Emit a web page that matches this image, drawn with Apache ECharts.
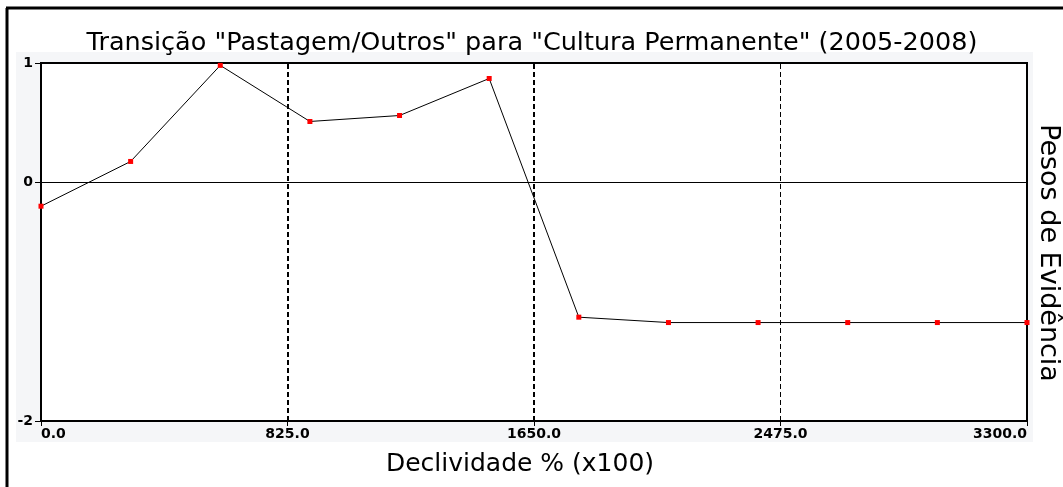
<!DOCTYPE html>
<html>
<head>
<meta charset="utf-8">
<script src="https://cdn.jsdelivr.net/npm/echarts@6/dist/echarts.min.js"></script>
<style>
  html, body { margin: 0; padding: 0; background: #ffffff; }
  #chart { width: 1063px; height: 487px; }
</style>
</head>
<body>
<div id="chart"></div>
<script>
// Slope classes (x100 %) and their weights of evidence
const declividade = [0, 300, 600, 900, 1200, 1500, 1800, 2100, 2400, 2700, 3000, 3300];
const pesos = [-0.20, 0.175, 0.98, 0.51, 0.56, 0.87, -1.13, -1.175, -1.175, -1.175, -1.175, -1.175];
const xTicks = [0, 825, 1650, 2475, 3300];
const yTicks = [-2, 0, 1];
const dashedBreaks = [825, 1650, 2475];

const chart = echarts.init(document.getElementById('chart'), null, { renderer: 'canvas' });

const font = 'DejaVu Sans, sans-serif';

chart.setOption({
  animation: false,
  backgroundColor: '#ffffff',
  title: {
    text: 'Transição "Pastagem/Outros" para "Cultura Permanente" (2005-2008)',
    left: 527,
    textAlign: 'center',
    top: 25,
    textStyle: { fontFamily: font, fontSize: 25.5, fontWeight: 'normal', color: '#000' }
  },
  graphic: [
    // light panel behind the plot
    { type: 'rect', z: -10, shape: { x: 16, y: 52, width: 1017, height: 390 }, style: { fill: '#f5f6f8' } },
    // outer frame (left and top edges)
    { type: 'line', z: 10, shape: { x1: 7, y1: 8, x2: 7, y2: 487 }, style: { stroke: '#000', lineWidth: 3 } },
    { type: 'line', z: 10, shape: { x1: 6, y1: 8, x2: 1063, y2: 8 }, style: { stroke: '#000', lineWidth: 3 } },
    // right-hand axis name
    {
      type: 'text', z: 10, x: 1035, y: 253, rotation: -Math.PI / 2,
      style: {
        text: 'Pesos de Evidência', fontFamily: font, fontSize: 27,
        fill: '#000', align: 'center', verticalAlign: 'bottom'
      }
    }
  ],
  grid: {
    left: 41, right: 36, top: 63, bottom: 66,
    show: true, backgroundColor: '#ffffff', borderColor: '#000', borderWidth: 2
  },
  xAxis: {
    type: 'value',
    min: 0, max: 3300, interval: 825,
    name: 'Declividade % (x100)',
    nameLocation: 'middle',
    nameGap: 31,
    nameTextStyle: { fontFamily: font, fontSize: 25, color: '#000', padding: [0, 28, 0, 0] },
    axisLine: { show: true, onZero: false, lineStyle: { color: '#000', width: 2 } },
    axisTick: { show: true, length: 5, lineStyle: { color: '#000', width: 1 }, customValues: xTicks },
    axisLabel: {
      customValues: xTicks,
      formatter: v => v.toFixed(1),
      fontFamily: font, fontSize: 14, fontWeight: 'bold', color: '#000',
      margin: 6, alignMinLabel: 'left', alignMaxLabel: 'right'
    },
    splitLine: { show: false }
  },
  yAxis: {
    type: 'value',
    min: -2, max: 1, interval: 1,
    axisLine: { show: true, onZero: false, lineStyle: { color: '#000', width: 2 } },
    axisTick: { show: true, length: 6, lineStyle: { color: '#000', width: 1 }, customValues: yTicks },
    axisLabel: {
      customValues: yTicks,
      fontFamily: font, fontSize: 14, fontWeight: 'bold', color: '#000', margin: 8
    },
    splitLine: { show: false }
  },
  series: [{
    type: 'line',
    data: declividade.map((x, i) => [x, pesos[i]]),
    symbol: 'rect',
    symbolSize: 5,
    showAllSymbol: true,
    clip: false,
    itemStyle: { color: '#ff0000' },
    lineStyle: { color: '#000', width: 1 },
    z: 5,
    markLine: {
      silent: true,
      symbol: ['none', 'none'],
      label: { show: false },
      animation: false,
      data: [
        { yAxis: 0, lineStyle: { color: '#000', width: 1, type: 'solid' } },
        { xAxis: dashedBreaks[0], lineStyle: { color: '#000', width: 2, type: [5, 3] } },
        { xAxis: dashedBreaks[1], lineStyle: { color: '#000', width: 2, type: [5, 3] } },
        { xAxis: dashedBreaks[2], lineStyle: { color: '#000', width: 1, type: [5, 3] } }
      ]
    }
  }]
});
</script>
</body>
</html>
